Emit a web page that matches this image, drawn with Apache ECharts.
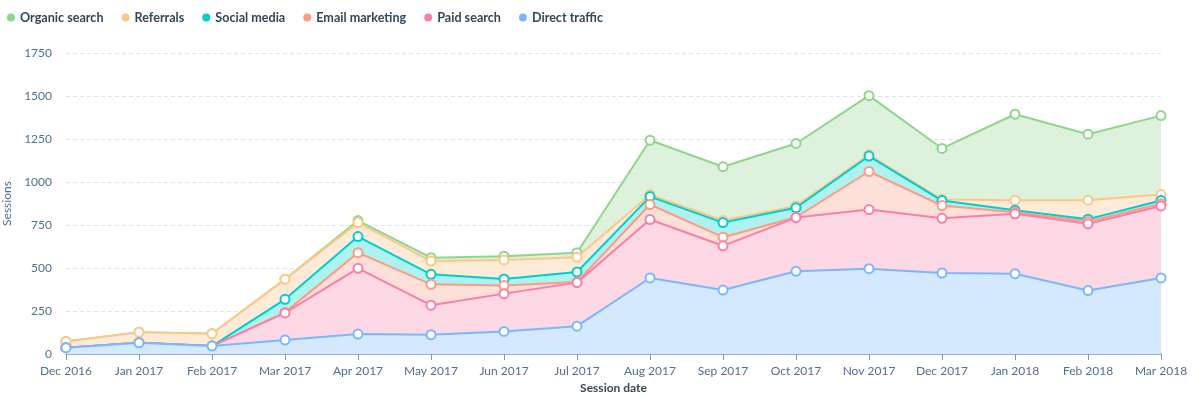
<!DOCTYPE html>
<html>
<head>
	<meta charset="utf-8" />
	<script src="https://cdn.jsdelivr.net/npm/echarts@6/dist/echarts.min.js"></script>
	<title>Sessions</title>
	<style>
		html, body { margin: 0; padding: 0; background: #fff; }
		#c { width: 1198px; height: 397px; }
	</style>
</head>
<body>
	<div id="c"></div>
	<script>
		var months = ['Dec 2016', 'Jan 2017', 'Feb 2017', 'Mar 2017', 'Apr 2017', 'May 2017', 'Jun 2017', 'Jul 2017',
			'Aug 2017', 'Sep 2017', 'Oct 2017', 'Nov 2017', 'Dec 2017', 'Jan 2018', 'Feb 2018', 'Mar 2018'];
		var directTraffic = [37, 65, 46, 81, 116, 112, 131, 162, 442, 372, 481, 496, 471, 467, 369, 442];
		var paidSearch = [0, 0, 0, 158, 382, 172, 220, 253, 340, 257, 312, 344, 318, 348, 388, 419];
		var emailMarketing = [0, 0, 0, 3, 91, 121, 47, 4, 87, 50, 2, 221, 74, 9, 13, 12];
		var socialMedia = [0, 0, 0, 76, 94, 58, 38, 58, 46, 85, 55, 90, 29, 12, 14, 19];
		var referrals = [36, 61, 72, 116, 81, 77, 110, 86, 11, 12, 11, 7, 6, 58, 110, 35];
		var organicSearch = [0, 0, 0, 0, 12, 20, 23, 26, 317, 313, 363, 344, 297, 500, 384, 459];
		var yTicks = [0, 250, 500, 750, 1000, 1250, 1500, 1750];

		// bottom of the stack first
		var seriesDefs = [
			{ name: 'Direct traffic', data: directTraffic, line: '#7ab8fb', area: '#d4e9fd' },
			{ name: 'Paid search', data: paidSearch, line: '#f97fa6', area: '#fcd7e4' },
			{ name: 'Email marketing', data: emailMarketing, line: '#fd9b84', area: '#fde0d9' },
			{ name: 'Social media', data: socialMedia, line: '#00cdcd', area: '#aef2ef' },
			{ name: 'Referrals', data: referrals, line: '#fdc787', area: '#fdebd8' },
			{ name: 'Organic search', data: organicSearch, line: '#90d58c', area: '#ddf1dc' }
		];

		var series = [];
		for (var i = 0; i < seriesDefs.length; i++) {
			var d = seriesDefs[i];
			series.push({
				name: d.name,
				type: 'line',
				stack: 'total',
				data: d.data,
				z: 10 - i,
				symbol: 'circle',
				symbolSize: 9,
				showAllSymbol: true,
				lineStyle: { color: d.line, width: 2 },
				itemStyle: { color: '#fff', borderColor: d.line, borderWidth: 2 },
				areaStyle: { color: d.area, opacity: 1 },
				emphasis: { disabled: true }
			});
		}

		var chart = echarts.init(document.getElementById('c'));
		chart.setOption({
			animation: false,
			textStyle: { fontFamily: 'Lato' },
			legend: {
				data: ['Organic search', 'Referrals', 'Social media', 'Email marketing', 'Paid search', 'Direct traffic'].map(function (n) {
					var def = seriesDefs.filter(function (s) { return s.name === n; })[0];
					return { name: n, itemStyle: { color: def.line, borderWidth: 0 } };
				}),
				left: 2,
				top: 6,
				icon: 'circle',
				itemWidth: 8,
				itemHeight: 8,
				itemGap: 18,
				textStyle: { color: '#33475b', fontSize: 12.6, fontWeight: 'bold', fontFamily: 'Lato' }
			},
			grid: { left: 66, right: 37, top: 53, bottom: 43, containLabel: false, outerBoundsMode: 'none' },
			xAxis: {
				type: 'category',
				data: months,
				boundaryGap: false,
				name: 'Session date',
				nameLocation: 'middle',
				nameGap: 28,
				nameTextStyle: { color: '#33475b', fontSize: 12, fontWeight: 'bold' },
				axisLine: { lineStyle: { color: '#7c98b6', width: 1.5 } },
				axisTick: { show: true, length: 6, lineStyle: { color: '#7c98b6' } },
				axisLabel: { color: '#516f90', fontSize: 12, margin: 11 }
			},
			yAxis: {
				type: 'value',
				min: 0,
				max: 1750,
				interval: 250,
				name: 'Sessions',
				nameLocation: 'middle',
				nameGap: 49,
				nameTextStyle: { color: '#516f90', fontSize: 12 },
				axisLine: { show: false },
				axisTick: { show: false },
				axisLabel: {
					color: '#516f90', fontSize: 12, margin: 14,
					formatter: function (v) { return yTicks.indexOf(v) >= 0 ? String(v) : ''; }
				},
				splitLine: { lineStyle: { color: '#dfe3eb', type: [4, 3] } }
			},
			series: series
		});
	</script>
</body>
</html>
